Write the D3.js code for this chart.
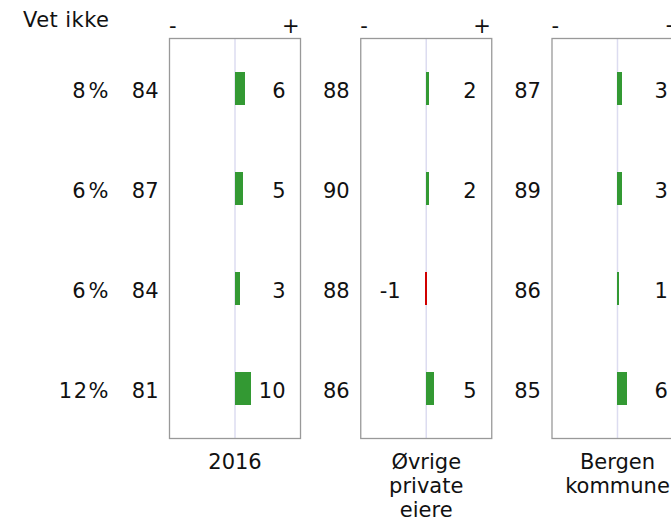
<!DOCTYPE html>
<html>
<head>
<meta charset="utf-8">
<script src="https://cdn.jsdelivr.net/npm/d3@7"></script>
<style>
  html, body { margin: 0; padding: 0; background: #fff; }
  svg { display: block; }
  text { font-family: "DejaVu Sans", Verdana, sans-serif; font-size: 21px; fill: #111; }
</style>
</head>
<body>
<script>
// ---- data ----
const groups = ["2016", "Øvrige private eiere", "Bergen kommune"];
const groupLabelLines = [["2016"], ["Øvrige", "private", "eiere"], ["Bergen", "kommune"]];
const rows = ["1", "2", "3", "4"];
const vetIkke = ["8%", "6%", "6%", "12%"];
const base2016 = [84, 87, 84, 81];
const change2016 = [6, 5, 3, 10];
const baseOvrige = [88, 90, 88, 86];
const changeOvrige = [2, 2, -1, 5];
const baseBergen = [87, 89, 86, 85];
const changeBergen = [3, 3, 1, 6];
const headerLabel = "Vet ikke";
const minusLabel = "-";
const plusLabel = "+";

const panelData = [
  { group: groups[0], lines: groupLabelLines[0], base: base2016, change: change2016 },
  { group: groups[1], lines: groupLabelLines[1], base: baseOvrige, change: changeOvrige },
  { group: groups[2], lines: groupLabelLines[2], base: baseBergen, change: changeBergen }
];

// ---- layout ----
const W = 671, H = 521;
const plotTop = 38.5, plotBottom = 438.5;
const svg = d3.select("body").append("svg").attr("width", W).attr("height", H);

const xPanel = d3.scaleBand().domain(groups).range([169.5, 683]).paddingInner(0.315).paddingOuter(0);
const y = d3.scalePoint().domain(rows).range([plotTop, plotBottom]).padding(0.5);
const step = y.step();
const barH = step / 3;
const x = d3.scaleLinear().domain([-41, 41]).range([0, xPanel.bandwidth()]);

const green = "#339933", red = "#d00000";

// header
svg.append("text").attr("x", 109).attr("y", 27).attr("text-anchor", "end")
  .attr("textLength", 86).attr("lengthAdjust", "spacing").text(headerLabel);

// Vet ikke column
svg.selectAll("text.vet").data(rows).join("text").attr("class", "vet")
  .attr("x", 108.5).attr("y", (d) => y(d) + 9.3).attr("text-anchor", "end")
  .text((d, i) => vetIkke[i])
  .each(function () {
    const len = this.getComputedTextLength();
    d3.select(this).attr("textLength", len + 3).attr("lengthAdjust", "spacing");
  });

panelData.forEach((p) => {
  const px = xPanel(p.group);
  const g = svg.append("g").attr("transform", `translate(${px},0)`);
  const bw = xPanel.bandwidth();

  // zero line
  g.append("line").attr("x1", x(0)).attr("x2", x(0)).attr("y1", plotTop).attr("y2", plotBottom)
    .attr("stroke", "#dcdcf0").attr("stroke-width", 1.5);

  // box
  g.append("rect").attr("x", 0).attr("y", plotTop).attr("width", bw).attr("height", plotBottom - plotTop)
    .attr("fill", "none").attr("stroke", "#999").attr("stroke-width", 1.3);

  // - / + labels
  g.append("text").attr("x", -0.5).attr("y", 33).text(minusLabel);
  g.append("text").attr("x", bw - 1).attr("y", 33).attr("text-anchor", "end").text(plusLabel);

  // bars
  g.selectAll("rect.bar").data(rows).join("rect").attr("class", "bar")
    .attr("x", (d, i) => x(Math.min(0, p.change[i])))
    .attr("width", (d, i) => Math.max(2, Math.abs(x(p.change[i]) - x(0))))
    .attr("y", (d) => y(d) - barH / 2)
    .attr("height", barH)
    .attr("shape-rendering", "crispEdges")
    .attr("fill", (d, i) => p.change[i] < 0 ? red : green);

  // change labels
  g.selectAll("text.chg").data(rows).join("text").attr("class", "chg")
    .attr("x", (d, i) => p.change[i] < 0 ? 19 : bw - 15)
    .attr("text-anchor", (d, i) => p.change[i] < 0 ? "start" : "end")
    .attr("y", (d) => y(d) + 9.3)
    .text((d, i) => p.change[i]);

  // base labels (left of panel)
  g.selectAll("text.base").data(rows).join("text").attr("class", "base")
    .attr("x", -11).attr("text-anchor", "end")
    .attr("y", (d) => y(d) + 9.3)
    .text((d, i) => p.base[i]);

  // group label
  const lbl = g.append("text").attr("text-anchor", "middle");
  p.lines.forEach((ln, k) => {
    lbl.append("tspan").attr("x", bw / 2).attr("y", 469 + k * 24).text(ln);
  });
});
</script>
</body>
</html>
